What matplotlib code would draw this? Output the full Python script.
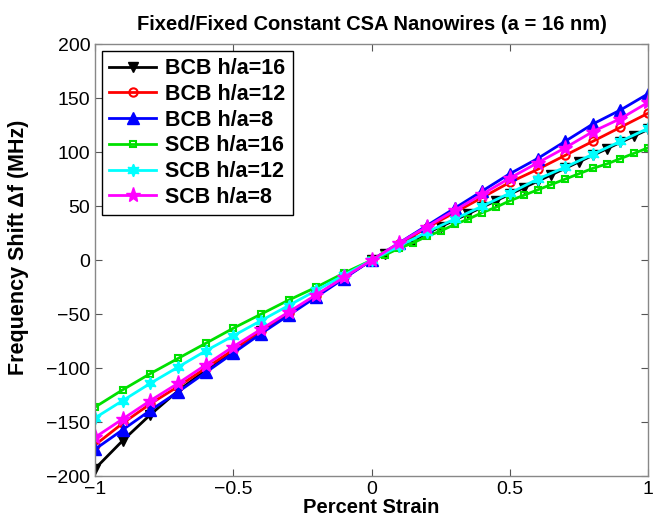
import numpy as np
import matplotlib.pyplot as plt

plt.rcParams['font.family'] = ['Liberation Sans', 'DejaVu Sans']

# strain axis: 0.1 steps everywhere, 0.05 steps on the positive side for two runs
strain = np.round(np.arange(-1.0, 1.0001, 0.1), 2)
strain_fine = np.round(np.concatenate([np.arange(-1.0, 0.0001, 0.1),
                                       np.arange(0.05, 1.0001, 0.05)]), 2)

bcb16 = [-193, -167, -143, -121, -102, -84, -66, -49, -33, -16, 0,
         6, 12, 18, 25, 31, 37, 43, 49, 55, 61, 67, 73, 79, 85, 91, 97, 103, 109, 115, 121]
bcb12 = [-171, -151, -133, -117, -100, -83, -66, -49, -33, -16, 0,
         15, 30, 44, 58, 72, 84, 97, 110, 123, 136]
bcb8 = [-175, -157, -139, -122, -104, -86, -68, -51, -34, -17, 0,
        16, 32, 48, 64, 80, 94, 110, 126, 139, 154]
scb16 = [-136, -120, -105, -91, -77, -63, -50, -37, -25, -12, 0,
         5, 11, 16, 22, 27, 33, 38, 44, 49, 55, 60, 65, 70, 75, 80, 85, 89, 94, 99, 104]
scb12 = [-146, -130, -114, -99, -84, -70, -56, -42, -28, -14, 0,
         13, 26, 38, 50, 62, 75, 86, 98, 110, 122]
scb8 = [-164, -147, -130, -114, -97, -80, -64, -48, -32, -16, 0,
        16, 31, 46, 61, 76, 90, 104, 119, 131, 146]

labels = ['BCB h/a=16', 'BCB h/a=12', 'BCB h/a=8',
          'SCB h/a=16', 'SCB h/a=12', 'SCB h/a=8']

fig = plt.figure(figsize=(6.56, 5.25), dpi=100)
ax = fig.add_axes([0.145, 0.093, 0.843, 0.823])

lw = 2
ax.plot(strain_fine, bcb16, color='k', marker='v', ms=7, mfc='k', lw=lw, label=labels[0])
ax.plot(strain, bcb12, color='r', marker='o', ms=6, mfc='none', mew=1.5, lw=lw, label=labels[1])
ax.plot(strain, bcb8, color='b', marker='^', ms=8, mfc='b', lw=lw, label=labels[2])
ax.plot(strain_fine, scb16, color='#00e000', marker='s', ms=5, mfc='none', mew=1.5, lw=lw, label=labels[3])
ax.plot(strain, scb12, color='#00ffff', marker=(6, 1, 0), ms=9, mfc='#00ffff', lw=lw, label=labels[4])
ax.plot(strain, scb8, color='#ff00ff', marker='*', ms=11, mfc='#ff00ff', lw=lw, label=labels[5])

ax.set_xlim(-1, 1)
ax.set_ylim(-200, 200)
ax.set_xticks([-1, -0.5, 0, 0.5, 1])
ax.set_xticklabels(['\u22121', '\u22120.5', '0', '0.5', '1'])
ax.set_yticks(range(-200, 201, 50))
ax.set_yticklabels([str(v).replace('-', '\u2212') for v in range(-200, 201, 50)])
ax.tick_params(direction='in', top=True, right=True, labelsize=14, length=5, color='#555555')
for s in ax.spines.values():
    s.set_color('#888888')
    s.set_linewidth(1)

ax.set_title('Fixed/Fixed Constant CSA Nanowires (a = 16 nm)', fontsize=14.5, fontweight='bold', pad=10)
ax.set_xlabel('Percent Strain', fontsize=14.5, fontweight='bold', labelpad=0)
ax.set_ylabel('Frequency Shift \u0394f (MHz)', fontsize=15.5, fontweight='bold')
ax.yaxis.set_label_coords(-0.12, 0.53)

leg = ax.legend(loc='upper left', fancybox=False, edgecolor='k', framealpha=1,
                prop={'size': 15.5, 'weight': 'bold'}, handlelength=2.2,
                borderaxespad=0.3, labelspacing=0.22, borderpad=0.35, handletextpad=0.4)
leg.get_frame().set_linewidth(1)

plt.savefig('out.png', dpi=100)
plt.close()
